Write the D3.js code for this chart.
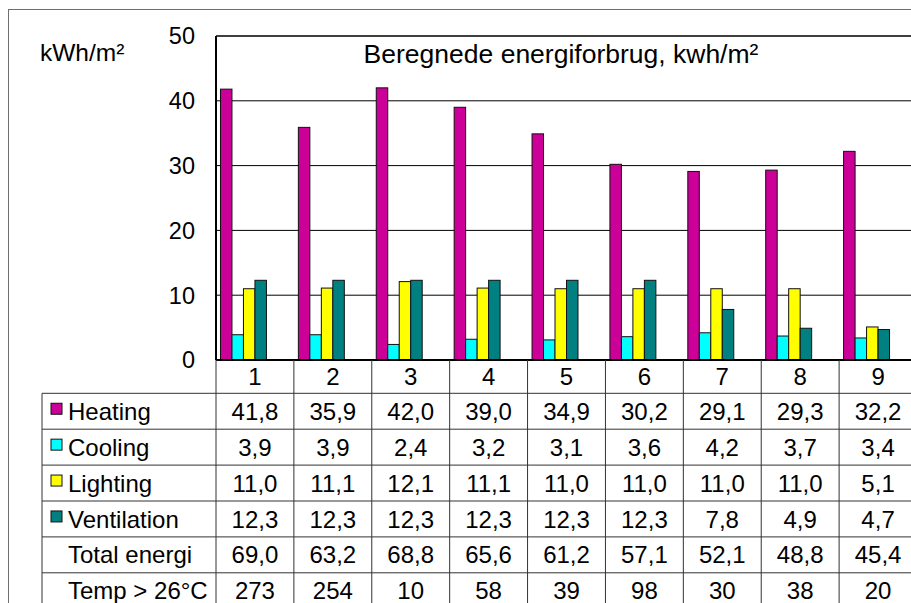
<!DOCTYPE html>
<html lang="da">

<head>
	<meta charset="utf-8">
	<style>
		body {
			margin: 0;
			background-color: white;
		}

		svg {
			font-family: 'Liberation Sans', Arial, sans-serif;
			display: block;
		}

		.grid line {
			stroke: #000;
			stroke-width: 1px;
		}

		.table line {
			stroke: #333;
			stroke-width: 1px;
		}

		.bar {
			stroke: #111;
			stroke-width: 1px;
		}
	</style>
</head>

<body>
	<svg width=911 height=603></svg>
	<script src="https://cdn.jsdelivr.net/npm/d3@7"></script>
	<script>
		// data
		const categories = ["1", "2", "3", "4", "5", "6", "7", "8", "9"]
		const heating = [41.8, 35.9, 42.0, 39.0, 34.9, 30.2, 29.1, 29.3, 32.2]
		const cooling = [3.9, 3.9, 2.4, 3.2, 3.1, 3.6, 4.2, 3.7, 3.4]
		const lighting = [11.0, 11.1, 12.1, 11.1, 11.0, 11.0, 11.0, 11.0, 5.1]
		const ventilation = [12.3, 12.3, 12.3, 12.3, 12.3, 12.3, 7.8, 4.9, 4.7]
		const totalEnergi = [69.0, 63.2, 68.8, 65.6, 61.2, 57.1, 52.1, 48.8, 45.4]
		const tempOver26 = [273, 254, 10, 58, 39, 98, 30, 38, 20]
		const yTicks = [0, 10, 20, 30, 40, 50]

		const barSeries = [
			{ name: "Heating", values: heating, color: "#CC0099" },
			{ name: "Cooling", values: cooling, color: "#00FFFF" },
			{ name: "Lighting", values: lighting, color: "#FFFF00" },
			{ name: "Ventilation", values: ventilation, color: "#008080" }
		]
		const comma = function (v) { return d3.format(".1f")(v).replace(".", ",") }
		const tableRows = [
			{ name: "Heating", color: "#CC0099", values: heating.map(comma) },
			{ name: "Cooling", color: "#00FFFF", values: cooling.map(comma) },
			{ name: "Lighting", color: "#FFFF00", values: lighting.map(comma) },
			{ name: "Ventilation", color: "#008080", values: ventilation.map(comma) },
			{ name: "Total energi", color: null, values: totalEnergi.map(comma) },
			{ name: "Temp > 26°C", color: null, values: tempOver26.map(String) }
		]

		//basic set up
		const plot = { left: 216, right: 917, top: 36, bottom: 360 }
		const tableLeft = 42
		const headerBottom = 393.3
		const fontSize = "24px"

		const svg = d3.select("svg")

		const x = d3.scaleBand().domain(categories).range([plot.left, plot.right])
		// six slots per group (total + temp series are invisible in the original)
		const xInner = d3.scaleBand()
			.domain(tableRows.map(d => d.name))
			.range([0, x.bandwidth()])
			.paddingOuter(0.39)
		const y = d3.scaleLinear().domain([0, 50]).range([plot.bottom, plot.top])
		const row = d3.scaleBand()
			.domain(tableRows.map(d => d.name))
			.range([headerBottom, headerBottom + 35.9 * tableRows.length])

		// outer chart frame (cropped on the right and bottom)
		svg.append("rect")
			.attr("x", 8.5)
			.attr("y", 9.5)
			.attr("width", 1000)
			.attr("height", 1000)
			.attr("fill", "none")
			.attr("stroke", "#6e6e6e")

		// gridlines
		svg.append("g")
			.attr("class", "grid")
			.selectAll("line")
			.data(yTicks.filter(t => t > 0 && t < 50))
			.join("line")
			.attr("x1", plot.left)
			.attr("x2", plot.right)
			.attr("y1", d => y(d))
			.attr("y2", d => y(d))

		// y tick labels
		svg.append("g")
			.selectAll("text")
			.data(yTicks)
			.join("text")
			.attr("x", 195)
			.attr("y", d => y(d))
			.attr("dy", "0.36em")
			.attr("text-anchor", "end")
			.style("font-size", "23.5px")
			.text(d => d)

		svg.append("text")
			.attr("x", 40)
			.attr("y", 61)
			.style("font-size", "24.5px")
			.text("kWh/m²")

		// bars
		const groups = svg.append("g")
			.selectAll("g")
			.data(barSeries)
			.join("g")
			.attr("fill", d => d.color)

		groups.selectAll("rect")
			.data(s => s.values.map((v, i) => ({ name: s.name, cat: categories[i], value: v })))
			.join("rect")
			.attr("class", "bar")
			.attr("x", d => x(d.cat) + xInner(d.name))
			.attr("y", d => y(d.value))
			.attr("width", xInner.bandwidth())
			.attr("height", d => y(0) - y(d.value))

		// plot frame
		svg.append("line")
			.attr("x1", plot.left).attr("x2", plot.right)
			.attr("y1", y(50)).attr("y2", y(50))
			.attr("stroke", "#000").attr("stroke-width", 1.5)
		svg.append("line")
			.attr("x1", plot.left).attr("x2", plot.left)
			.attr("y1", y(50)).attr("y2", y(0))
			.attr("stroke", "#000").attr("stroke-width", 2)
		svg.append("line")
			.attr("x1", plot.left).attr("x2", plot.right)
			.attr("y1", y(0)).attr("y2", y(0))
			.attr("stroke", "#000").attr("stroke-width", 2)

		svg.append("text")
			.attr("x", 561)
			.attr("y", 63)
			.attr("text-anchor", "middle")
			.style("font-size", "26.5px")
			.text("Beregnede energiforbrug, kwh/m²")

		// data table
		const table = svg.append("g").attr("class", "table")
		const tableBottom = row.range()[1]

		table.selectAll("line.col")
			.data(categories.concat(["end"]))
			.join("line")
			.attr("class", "col")
			.attr("x1", d => d === "end" ? plot.right : x(d))
			.attr("x2", d => d === "end" ? plot.right : x(d))
			.attr("y1", plot.bottom)
			.attr("y2", tableBottom)

		table.append("line")
			.attr("x1", tableLeft).attr("x2", tableLeft)
			.attr("y1", headerBottom).attr("y2", tableBottom)

		table.selectAll("line.row")
			.data(tableRows)
			.join("line")
			.attr("class", "row")
			.attr("x1", tableLeft)
			.attr("x2", plot.right)
			.attr("y1", d => row(d.name))
			.attr("y2", d => row(d.name))

		table.selectAll("text.cat")
			.data(categories)
			.join("text")
			.attr("class", "cat")
			.attr("x", d => x(d) + x.bandwidth() / 2)
			.attr("y", (plot.bottom + headerBottom) / 2)
			.attr("dy", "0.36em")
			.attr("text-anchor", "middle")
			.style("font-size", fontSize)
			.text(d => d)

		const rowsG = table.selectAll("g.trow")
			.data(tableRows)
			.join("g")
			.attr("class", "trow")
			.attr("transform", d => "translate(0," + (row(d.name) + row.bandwidth() / 2) + ")")

		rowsG.filter(d => d.color)
			.append("rect")
			.attr("x", 51)
			.attr("y", -8)
			.attr("width", 11)
			.attr("height", 11)
			.attr("fill", d => d.color)
			.attr("stroke", "#111")

		rowsG.append("text")
			.attr("x", 68)
			.attr("dy", "0.36em")
			.style("font-size", fontSize)
			.text(d => d.name)

		rowsG.selectAll("text.val")
			.data(d => d.values.map((v, i) => ({ cat: categories[i], v: v })))
			.join("text")
			.attr("class", "val")
			.attr("x", d => x(d.cat) + x.bandwidth() / 2)
			.attr("dy", "0.36em")
			.attr("text-anchor", "middle")
			.style("font-size", fontSize)
			.text(d => d.v)
	</script>
</body>

</html>
